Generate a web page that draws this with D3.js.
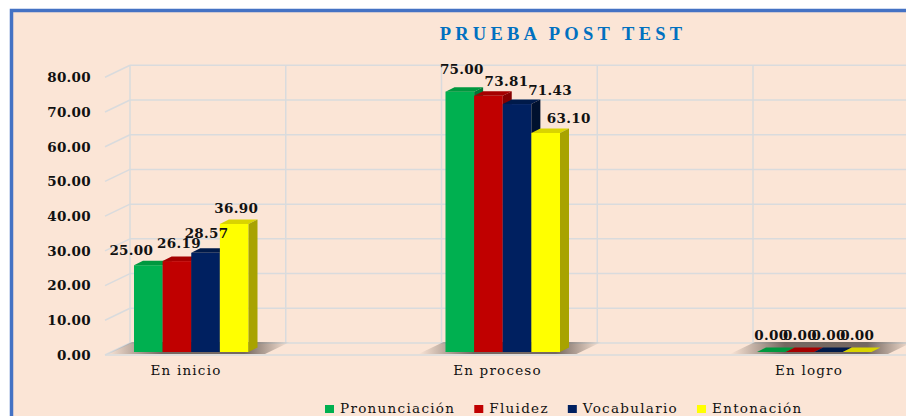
<!DOCTYPE html>
<meta charset="utf-8">
<body style="margin:0;background:#fff">
<div id="chart"></div>
<script src="https://cdn.jsdelivr.net/npm/d3@7"></script>
<script>
    // data
    var categories = ["En inicio", "En proceso", "En logro"];
    var seriesNames = ["Pronunciación", "Fluidez", "Vocabulario", "Entonación"];
    var pronunciacion = [25.00, 75.00, 0.00];
    var fluidez = [26.19, 73.81, 0.00];
    var vocabulario = [28.57, 71.43, 0.00];
    var entonacion = [36.90, 63.10, 0.00];
    var yTicks = [0, 10, 20, 30, 40, 50, 60, 70, 80];

    var colors = ["#00b050", "#c00000", "#002060", "#ffff00"];
    var sideColors = ["#007a37", "#850000", "#00112f", "#a8a300"];
    var topColors = ["#00983f", "#a50000", "#001a4a", "#d9d400"];

    // label nudges (layout only), [dx, lift] per category / series
    var labelNudge = [
        [[-17, 10], [2, 13], [1, 15], [2, 11]],
        [[2, 18], [18, 10], [33, 9], [23, 10]],
        [[0, 12], [0, 12], [0, 12], [0, 12]]
    ];

    var values = [pronunciacion, fluidez, vocabulario, entonacion];
    var serif = "'DejaVu Serif', serif";

    var W = 906, H = 416;
    var svg = d3.select("#chart").append("svg")
        .attr("width", W).attr("height", H)
        .style("display", "block");

    // frame
    svg.append("rect").attr("x", 11.5).attr("y", 10.5)
        .attr("width", W + 20).attr("height", H + 20)
        .attr("fill", "#fbe5d6").attr("stroke", "#4472c4").attr("stroke-width", 3.5);

    // 3D geometry
    var wallDx = 25, wallDy = -12;   // depth of the back wall
    var barDx = 9, barDy = -4.5;     // depth of a bar
    var frontZero = 355, barZero = 352, plotH = 277.7;

    var yFront = d3.scaleLinear().domain([0, 80]).range([frontZero, frontZero - plotH]);
    var yBar = d3.scaleLinear().domain([0, 80]).range([barZero, barZero - plotH]);

    var x0 = d3.scaleBand().domain(categories).range([130, 130 + 3 * 311.5]);
    var x1 = d3.scaleBand().domain(seriesNames).range([0, 114.5]);

    var defs = svg.append("defs");
    var grad = defs.append("linearGradient").attr("id", "shadow")
        .attr("x1", "0%").attr("x2", "100%").attr("y1", "0%").attr("y2", "0%");
    grad.append("stop").attr("offset", "0%").attr("stop-color", "#5e524c").attr("stop-opacity", 0);
    grad.append("stop").attr("offset", "30%").attr("stop-color", "#5e524c").attr("stop-opacity", 0.85);
    grad.append("stop").attr("offset", "75%").attr("stop-color", "#5e524c").attr("stop-opacity", 0.85);
    grad.append("stop").attr("offset", "100%").attr("stop-color", "#5e524c").attr("stop-opacity", 0);

    var gridColor = "#d9dbdd";

    // back wall horizontal gridlines + left wall diagonals
    var grid = svg.append("g");
    grid.selectAll(".hline").data(yTicks).enter().append("line")
        .attr("x1", 130).attr("x2", W)
        .attr("y1", function(d) { return yFront(d) + wallDy; })
        .attr("y2", function(d) { return yFront(d) + wallDy; })
        .attr("stroke", gridColor).attr("stroke-width", 1.5);
    grid.selectAll(".dline").data(yTicks).enter().append("line")
        .attr("x1", 105).attr("x2", 130)
        .attr("y1", function(d) { return yFront(d); })
        .attr("y2", function(d) { return yFront(d) + wallDy; })
        .attr("stroke", gridColor).attr("stroke-width", 1.5);

    // vertical gridlines at band edges and middles
    var vlines = [];
    categories.forEach(function(c) {
        vlines.push(x0(c));
        vlines.push(x0(c) + x0.bandwidth() / 2);
    });
    vlines.push(x0.range()[1]);
    grid.selectAll(".vline").data(vlines).enter().append("line")
        .attr("x1", function(d) { return d; }).attr("x2", function(d) { return d; })
        .attr("y1", yFront(80) + wallDy).attr("y2", yFront(0) + wallDy)
        .attr("stroke", gridColor).attr("stroke-width", 1.5);

    // floor front edge
    grid.append("line").attr("x1", 105).attr("x2", W)
        .attr("y1", frontZero).attr("y2", frontZero)
        .attr("stroke", gridColor).attr("stroke-width", 1.5);

    // y axis labels
    var yAxis = svg.append("g")
        .attr("transform", "translate(91,0)")
        .call(d3.axisLeft(yFront).tickValues(yTicks).tickFormat(d3.format(".2f")).tickSize(0).tickPadding(0));
    yAxis.select(".domain").remove();
    yAxis.selectAll("text")
        .attr("font-family", serif)
        .attr("font-weight", "bold").attr("font-size", 13.5)
        .attr("letter-spacing", 0.3)
        .attr("fill", "#111");

    // bars
    categories.forEach(function(c, ci) {
        var gx = x0(c) + 4;
        var g = svg.append("g");

        // floor shadow
        g.append("path")
            .attr("d", "M" + (gx - 27) + "," + (frontZero - 1) +
                " L" + (gx + 131) + "," + (frontZero - 1) +
                " L" + (gx + 156) + "," + (frontZero - 1 + wallDy) +
                " L" + (gx - 2) + "," + (frontZero - 1 + wallDy) + "Z")
            .attr("fill", "url(#shadow)");

        seriesNames.forEach(function(s, si) {
            var v = values[si][ci];
            var x = gx + x1(s), w = x1.bandwidth();
            var yt = yBar(v);
            // front
            g.append("rect").attr("x", x).attr("y", yt)
                .attr("width", w).attr("height", barZero - yt)
                .attr("fill", colors[si]);
            // top
            g.append("path")
                .attr("d", "M" + x + "," + yt + " L" + (x + w) + "," + yt +
                    " L" + (x + w + barDx) + "," + (yt + barDy) +
                    " L" + (x + barDx) + "," + (yt + barDy) + "Z")
                .attr("fill", topColors[si]);
            // side
            g.append("path")
                .attr("d", "M" + (x + w) + "," + yt + " L" + (x + w + barDx) + "," + (yt + barDy) +
                    " L" + (x + w + barDx) + "," + (barZero + barDy) +
                    " L" + (x + w) + "," + barZero + "Z")
                .attr("fill", sideColors[si]);
        });
    });

    // data labels
    var labels = svg.append("g");
    categories.forEach(function(c, ci) {
        seriesNames.forEach(function(s, si) {
            var v = values[si][ci];
            var n = labelNudge[ci][si];
            labels.append("text")
                .attr("x", x0(c) + 4 + x1(s) + x1.bandwidth() / 2 + n[0])
                .attr("y", yBar(v) - n[1])
                .attr("text-anchor", "middle")
                .attr("font-family", serif)
                .attr("font-weight", "bold").attr("font-size", 13.5)
                .attr("letter-spacing", 0.3)
                .attr("fill", "#111")
                .text(d3.format(".2f")(v));
        });
    });

    // category labels
    svg.append("g").selectAll("text").data(categories).enter().append("text")
        .attr("x", function(d) { return x0(d) + 4 + 52; })
        .attr("y", 375)
        .attr("text-anchor", "middle")
        .attr("font-family", serif)
        .attr("font-size", 13.5).attr("letter-spacing", 1.2)
        .attr("fill", "#111")
        .text(function(d) { return d; });

    // title
    svg.append("text")
        .attr("x", 563).attr("y", 40)
        .attr("text-anchor", "middle")
        .attr("font-family", "'Liberation Serif', serif")
        .attr("font-weight", "bold").attr("font-size", 18.5)
        .attr("letter-spacing", 4.2)
        .attr("fill", "#0070c0")
        .text("PRUEBA POST TEST");

    // legend
    var legend = svg.append("g");
    var lx = 325;
    seriesNames.forEach(function(s, si) {
        legend.append("rect").attr("x", lx).attr("y", 405)
            .attr("width", 9).attr("height", 8).attr("fill", colors[si]);
        var t = legend.append("text")
            .attr("x", lx + 15).attr("y", 413)
            .attr("font-family", serif)
            .attr("font-size", 13.5).attr("letter-spacing", 1.3)
            .attr("fill", "#111")
            .text(s);
        lx += 15 + t.node().getComputedTextLength() + 19;
    });
</script>
</body>
